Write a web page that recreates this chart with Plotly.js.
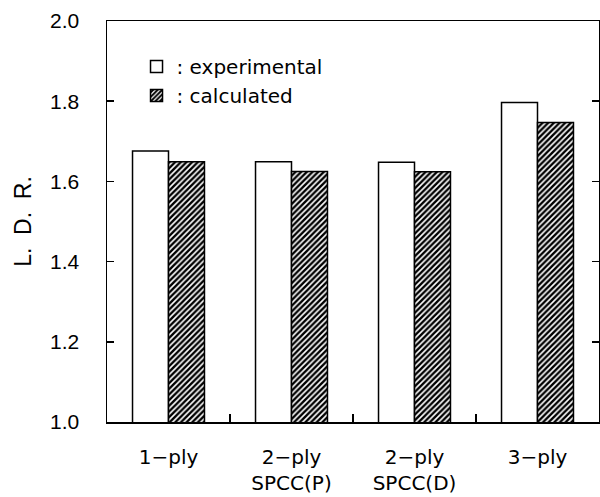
<!DOCTYPE html>
<html>
<head>
<meta charset="utf-8">
<script src="https://cdn.plot.ly/plotly-3.0.1.min.js"></script>
<style>html,body{margin:0;padding:0;background:#fff;}#chart{width:600px;height:497px;}</style>
</head>
<body>
<div id="chart"></div>
<script>
var categories = ["1\u2212ply", "2\u2212ply<br>SPCC(P)", "2\u2212ply<br>SPCC(D)", "3\u2212ply"];
var experimental = [1.676, 1.649, 1.648, 1.797];
var calculated = [1.649, 1.625, 1.624, 1.747];
var seriesNames = [":\u00a0experimental", ":\u00a0calculated"];

var traces = [
  {
    type: "bar", name: seriesNames[0], x: categories, y: experimental,
    marker: {color: "#ffffff", line: {color: "#000000", width: 1.5}}
  },
  {
    type: "bar", name: seriesNames[1], x: categories, y: calculated,
    marker: {color: "#ffffff", line: {color: "#000000", width: 1.5},
             pattern: {shape: "/", size: 4, solidity: 0.6, fgcolor: "#000000", bgcolor: "#ffffff", fillmode: "replace"}}
  }
];

var layout = {
  width: 600, height: 497,
  margin: {l: 107, r: 1, t: 21, b: 75},
  paper_bgcolor: "#ffffff", plot_bgcolor: "#ffffff",
  font: {family: "DejaVu Sans, sans-serif", size: 20, color: "#000000"},
  barmode: "group", bargap: 0.415, bargroupgap: 0,
  showlegend: true,
  legend: {x: 0.06, y: 0.935, xanchor: "left", yanchor: "top", bgcolor: "rgba(0,0,0,0)",
           font: {family: "DejaVu Sans, sans-serif", size: 20}, tracegroupgap: 0, itemwidth: 30},
  xaxis: {
    type: "category", showline: true, linecolor: "#000", linewidth: 1.5, mirror: true,
    ticks: "inside", tickson: "boundaries", ticklen: 8, tickwidth: 1.5, tickcolor: "#000",
    showgrid: false, zeroline: false, ticklabelstandoff: 16,
    tickfont: {family: "DejaVu Sans, sans-serif", size: 20}
  },
  yaxis: {
    range: [1, 2], tick0: 1, dtick: 0.2, tickformat: ".1f",
    showline: true, linecolor: "#000", linewidth: 1.5, mirror: "ticks",
    ticks: "inside", ticklen: 7, tickwidth: 1.5, tickcolor: "#000",
    showgrid: false, zeroline: false, ticklabelstandoff: 22,
    tickfont: {family: "Liberation Sans, Arial, sans-serif", size: 21},
    title: {text: "L.\u00a0\u00a0D.\u00a0\u00a0R.", font: {family: "Liberation Sans, Arial, sans-serif", size: 23}, standoff: 12}
  }
};

Plotly.newPlot("chart", traces, layout, {displayModeBar: false, staticPlot: true});
</script>
</body>
</html>
